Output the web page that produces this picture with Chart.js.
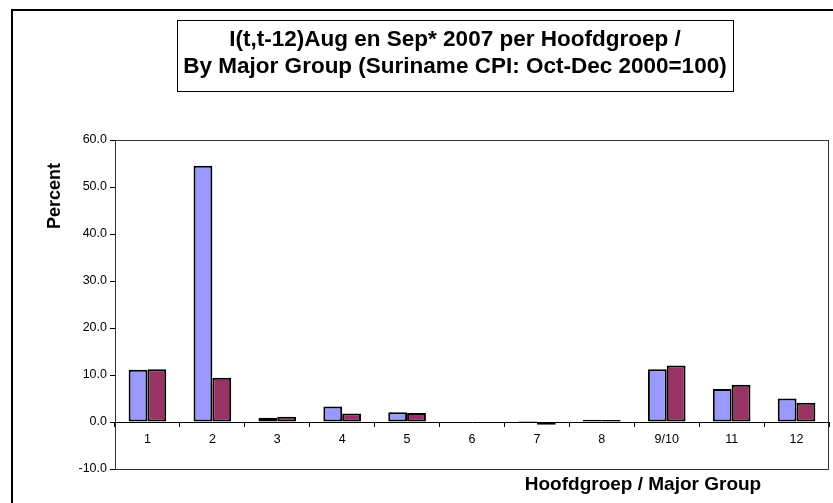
<!DOCTYPE html>
<html>
<head>
<meta charset="utf-8">
<script src="https://cdn.jsdelivr.net/npm/chart.js@4"></script>
<style>
  html, body { margin: 0; padding: 0; background: #fff; }
  #wrap { width: 833px; height: 503px; }
</style>
</head>
<body>
<div id="wrap"><canvas id="cpiChart" width="833" height="503"></canvas></div>
<script>
// Data
const categories = ['1', '2', '3', '4', '5', '6', '7', '8', '9/10', '11', '12'];
const augValues = [11.1, 54.5, 0.9, 3.3, 2.1, 0, 0.2, 0.5, 11.2, 7.0, 5.0];
const sepValues = [11.2, 9.4, 1.1, 1.8, 1.9, 0, -0.6, 0.4, 12.0, 7.9, 4.1];
const seriesNames = ['Aug 2007', 'Sep* 2007'];
const titleLines = ['I(t,t-12)Aug en Sep* 2007 per Hoofdgroep /', 'By Major Group (Suriname CPI: Oct-Dec 2000=100)'];
const yTitle = 'Percent';
const xTitle = 'Hoofdgroep / Major Group';

const FONT = '"Liberation Sans", Arial, sans-serif';

// Frames and titles (Excel-style)
const decor = {
  id: 'decor',
  beforeDatasetsDraw(chart) {
    const { ctx, chartArea: a } = chart;
    ctx.save();
    ctx.strokeStyle = '#333';
    ctx.lineWidth = 1;
    ctx.strokeRect(a.left + 0.5, a.top + 0.5, a.right - a.left - 1, a.bottom - a.top);
    ctx.restore();
  },
  afterDraw(chart) {
    const { ctx } = chart;
    ctx.save();
    // outer chart border
    ctx.strokeStyle = '#000';
    ctx.lineWidth = 2;
    ctx.strokeRect(12, 10, 860, 520);

    // title box
    ctx.lineWidth = 1;
    ctx.fillStyle = '#fff';
    ctx.fillRect(177, 20, 556, 71);
    ctx.strokeRect(177.5, 20.5, 556, 71);
    ctx.fillStyle = '#000';
    ctx.textAlign = 'center';
    ctx.textBaseline = 'alphabetic';
    ctx.font = 'bold 22.5px ' + FONT;
    ctx.fillText(titleLines[0], 455, 46);
    ctx.fillText(titleLines[1], 455, 73);

    // axis titles
    ctx.font = 'bold 19px ' + FONT;
    ctx.fillText(xTitle, 643, 490);
    ctx.translate(60, 196);
    ctx.rotate(-Math.PI / 2);
    ctx.font = 'bold 18px ' + FONT;
    ctx.fillText(yTitle, 0, 0);
    ctx.restore();
  }
};

new Chart(document.getElementById('cpiChart'), {
  type: 'bar',
  data: {
    labels: categories,
    datasets: [
      { label: seriesNames[0], data: augValues, backgroundColor: '#9999FF' },
      { label: seriesNames[1], data: sepValues, backgroundColor: '#993366' }
    ].map(ds => Object.assign(ds, {
      borderColor: '#000',
      borderWidth: 2,
      borderSkipped: false,
      categoryPercentage: 0.58,
      barPercentage: 1.0
    }))
  },
  options: {
    responsive: false,
    animation: false,
    devicePixelRatio: 1,
    layout: { padding: { left: 0, top: 140, right: 4, bottom: 34 } },
    plugins: {
      legend: { display: false },
      tooltip: { enabled: false },
      title: { display: false }
    },
    scales: {
      x: {
        position: { y: 0 },
        grid: { offset: true, drawOnChartArea: false, tickLength: 4, color: '#000' },
        border: { display: true, color: '#000', width: 1 },
        ticks: { color: '#000', padding: 6, font: { family: FONT, size: 12.5 } }
      },
      y: {
        min: -10,
        max: 60,
        afterFit: s => { s.width = 115; },
        grid: { drawOnChartArea: false, tickLength: 5, color: '#000' },
        border: { display: true, color: '#000', width: 1 },
        ticks: {
          stepSize: 10,
          padding: 3,
          color: '#000',
          font: { family: FONT, size: 12.5 },
          callback: v => v.toFixed(1)
        }
      }
    }
  },
  plugins: [decor]
});
</script>
</body>
</html>
